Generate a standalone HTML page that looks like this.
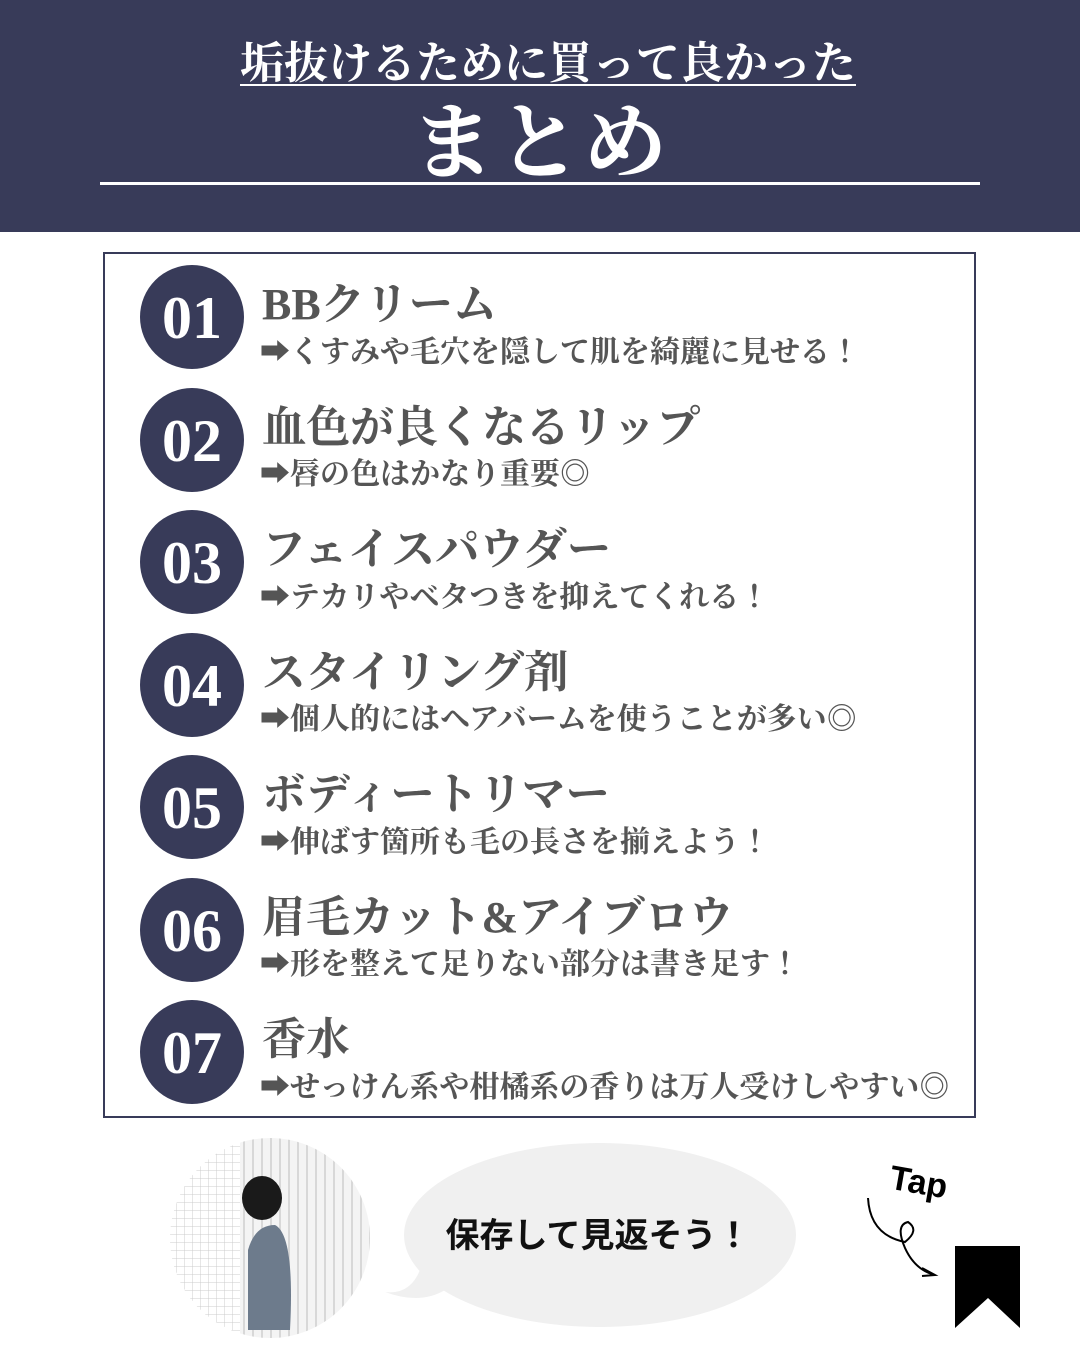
<!DOCTYPE html>
<html><head><meta charset="utf-8"><style>
body{margin:0;width:1080px;height:1350px;background:#fff;position:relative;overflow:hidden;font-family:"Liberation Serif","Noto Serif CJK JP","Noto Serif CJK SC",serif;}
.hdr{position:absolute;left:0;top:0;width:1080px;height:232px;background:#383b59;}
.t1{position:absolute;left:8px;width:1080px;top:27px;text-align:center;color:#fff;font-size:44px;font-weight:bold;text-decoration:underline;text-underline-offset:6px;text-decoration-thickness:2px;}
.t2{position:absolute;left:0;width:1080px;top:76px;text-align:center;color:#fff;font-size:84px;font-weight:bold;letter-spacing:2px;}
.line{position:absolute;left:100px;top:182px;width:880px;height:3px;background:#fff;}
.box{position:absolute;left:103px;top:252px;width:869px;height:862px;border:2px solid #383b59;}
.c{position:absolute;left:140px;width:104px;height:104px;border-radius:50%;background:#383b59;color:#fff;font-size:60px;font-weight:bold;text-align:center;line-height:106px;}
.h{position:absolute;left:262px;color:#555;font-size:44px;font-weight:bold;white-space:nowrap;}
.s{position:absolute;left:260px;color:#555;font-size:30px;font-weight:bold;white-space:nowrap;}
</style></head><body>
<div class="hdr"><div class="t1">垢抜けるために買って良かった</div><div class="t2">まとめ</div><div class="line"></div></div>
<div class="box"></div>

<div class="c" style="top:265px">01</div><div class="h" style="top:268px">BBクリーム</div><div class="s" style="top:327px">➡くすみや毛穴を隠して肌を綺麗に見せる！</div>
<div class="c" style="top:388px">02</div><div class="h" style="top:391px">血色が良くなるリップ</div><div class="s" style="top:449px">➡唇の色はかなり重要◎</div>
<div class="c" style="top:510px">03</div><div class="h" style="top:513px">フェイスパウダー</div><div class="s" style="top:572px">➡テカリやベタつきを抑えてくれる！</div>
<div class="c" style="top:633px">04</div><div class="h" style="top:636px">スタイリング剤</div><div class="s" style="top:694px">➡個人的にはヘアバームを使うことが多い◎</div>
<div class="c" style="top:755px">05</div><div class="h" style="top:758px">ボディートリマー</div><div class="s" style="top:817px">➡伸ばす箇所も毛の長さを揃えよう！</div>
<div class="c" style="top:878px">06</div><div class="h" style="top:881px">眉毛カット&amp;アイブロウ</div><div class="s" style="top:939px">➡形を整えて足りない部分は書き足す！</div>
<div class="c" style="top:1000px">07</div><div class="h" style="top:1003px">香水</div><div class="s" style="top:1062px">➡せっけん系や柑橘系の香りは万人受けしやすい◎</div>

<svg style="position:absolute;left:0;top:1130px" width="1080" height="220">
<defs><clipPath id="cp"><ellipse cx="270" cy="108" rx="100" ry="100"/></clipPath>
<pattern id="g" width="8" height="8" patternUnits="userSpaceOnUse"><rect width="8" height="8" fill="#fff"/><path d="M0 0H8M0 0V8" stroke="#ccc" stroke-width="1"/></pattern>
<pattern id="v" width="9" height="9" patternUnits="userSpaceOnUse"><rect width="9" height="9" fill="#f4f4f4"/><rect width="2" height="9" fill="#d8d8d8"/></pattern></defs>
<g clip-path="url(#cp)"><rect x="160" y="0" width="80" height="220" fill="url(#g)"/><rect x="240" y="0" width="140" height="220" fill="url(#v)"/>
<path d="M248 200 L248 120 Q255 95 275 95 Q295 105 290 200 Z" fill="#6d7b8c"/>
<ellipse cx="262" cy="68" rx="20" ry="22" fill="#1a1a1a"/></g>
<ellipse cx="600" cy="105" rx="196" ry="92" fill="#f0f0f0"/>
<path d="M420 140 Q410 165 385 162 Q420 175 445 160 Z" fill="#f0f0f0"/>
<text x="598" y="117" text-anchor="middle" font-family="Liberation Sans,'Noto Sans CJK JP',sans-serif" font-weight="bold" font-size="34" fill="#111">保存して見返そう！</text>
<text x="890" y="62" font-family="Liberation Sans,sans-serif" font-weight="bold" font-size="34" fill="#000" transform="rotate(10 910 50)">Tap</text>
<path d="M868 68 Q870 105 905 112 Q920 100 908 92 Q895 95 905 118 Q915 140 935 145 M922 138 L935 145 L922 146" fill="none" stroke="#000" stroke-width="2"/>
<path d="M955 116 H1020 V198 L988 168 L955 198 Z" fill="#000"/>
</svg>
</body></html>
